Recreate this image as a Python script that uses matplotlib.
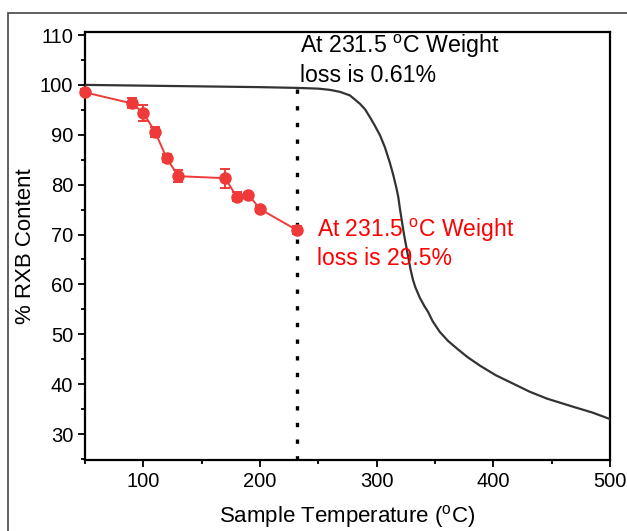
import matplotlib
matplotlib.use("Agg")
import matplotlib.pyplot as plt
from matplotlib.ticker import MultipleLocator
from matplotlib.patches import Rectangle

plt.rcParams['font.family'] = ['Liberation Sans', 'DejaVu Sans']
plt.rcParams['mathtext.fontset'] = 'custom'
plt.rcParams['mathtext.rm'] = 'Liberation Sans'

# TGA curve (black)
tga_temp = [50, 100, 150, 200, 231.5, 250, 260, 268.6, 277, 285.7, 290, 294, 298, 303,
            307, 311, 314, 317, 318.5, 320, 323.4, 327, 329, 331, 333, 335, 337, 341,
            344, 348, 354, 361, 369, 378, 388.6, 402, 417, 431, 446, 468, 485, 500]
tga_weight = [100, 99.85, 99.7, 99.55, 99.4, 99.25, 99.0, 98.6, 97.9, 96.2, 95.1, 93.6, 92.0, 89.8,
              87.5, 84.6, 82.1, 79.2, 77.5, 75.0, 70.0, 65.5, 63.0, 61.0, 59.5, 58.4, 57.3, 55.6,
              54.5, 52.6, 50.5, 48.7, 47.1, 45.4, 43.7, 41.8, 40.1, 38.5, 37.1, 35.5, 34.3, 33.0]

# RXB content (red)
rxb_temp = [50, 90, 100, 110, 120, 130, 170, 180, 190, 200, 231.5]
rxb_content = [98.5, 96.3, 94.4, 90.6, 85.3, 81.7, 81.3, 77.6, 78.0, 75.1, 70.9]
rxb_err = [0.6, 1.0, 1.6, 1.0, 0.8, 1.2, 1.9, 0.9, 0.4, 0.6, 0.8]

vline_x = 231.5
vline_top = 99.4

fig = plt.figure(figsize=(6.27, 5.31), dpi=100)
ax = fig.add_axes([0.1356, 0.1337, 0.973 - 0.1356, 0.9397 - 0.1337])

# outer frame
fig.patches.append(Rectangle((8 / 627, -0.1), 1.2, (531 - 12.5) / 531 + 0.1,
                             transform=fig.transFigure, fill=False,
                             edgecolor='#444444', linewidth=1.2, clip_on=False))

ax.plot(tga_temp, tga_weight, color='#333333', lw=1.6, zorder=3)
ax.errorbar(rxb_temp, rxb_content, yerr=rxb_err, color='#f03a3a', marker='o',
            markersize=8, lw=1.4, capsize=3.5, elinewidth=1.4, capthick=1.4, zorder=4,
            clip_on=False)
ax.plot([vline_x, vline_x], [24.8, vline_top], color='black', lw=2.4,
        linestyle=(0, (1.3, 3.7)), zorder=2)

ax.text(234.3, 110.4, r"At 231.5 $^{\rm o}$C Weight" + "\nloss is 0.61%",
        fontsize=16.7, color='black', va='top', ha='left', linespacing=1.2)
ax.text(249, 73.6, r"At 231.5 $^{\rm o}$C Weight" + "\nloss is 29.5%",
        fontsize=16.5, color='red', va='top', ha='left', linespacing=1.2)

ax.set_xlim(50, 500)
ax.set_ylim(24.8, 110.6)
ax.xaxis.set_major_locator(MultipleLocator(100))
ax.xaxis.set_minor_locator(MultipleLocator(50))
ax.yaxis.set_minor_locator(MultipleLocator(5))
ax.set_yticks([30, 40, 50, 60, 70, 80, 90, 100, 110])
ax.tick_params(which='major', direction='out', length=5, width=1.3, labelsize=14.5)
ax.tick_params(which='minor', direction='out', length=3, width=1.3)
for s in ax.spines.values():
    s.set_linewidth(1.6)

ax.set_xlabel(r"Sample Temperature ($^{\rm o}$C)", fontsize=16, labelpad=9)
ax.set_ylabel("% RXB Content", fontsize=16, labelpad=3)

fig.savefig("out.png", dpi=100)
